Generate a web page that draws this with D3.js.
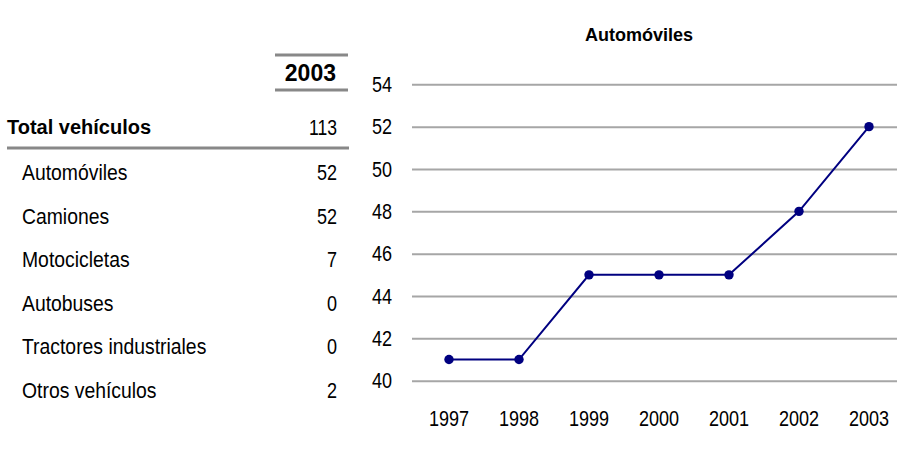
<!DOCTYPE html>
<html>
<head>
<meta charset="utf-8">
<script src="https://cdn.jsdelivr.net/npm/d3@7"></script>
<style>
  body { margin: 0; background: #fff; }
  svg text { fill: #000; }
  .narrow { font-family: "Liberation Sans", Arial, sans-serif; }
  .bold { font-family: "Liberation Sans", Arial, sans-serif; font-weight: bold; }
</style>
</head>
<body>
<div id="chart"></div>
<script>

var width = 897, height = 453;

// table data
var tableYear = "2003";
var totalLabel = "Total vehículos";
var totalValue = 113;
var rowLabels = ["Automóviles", "Camiones", "Motocicletas", "Autobuses", "Tractores industriales", "Otros vehículos"];
var rowValues = [52, 52, 7, 0, 0, 2];

// line chart data
var chartTitle = "Automóviles";
var years = ["1997", "1998", "1999", "2000", "2001", "2002", "2003"];
var autos = [41, 41, 45, 45, 45, 48, 52];
var yTicks = [40, 42, 44, 46, 48, 50, 52, 54];

// no narrow font installed, so squeeze the regular one
function condense(sel, k) {
	sel.each(function () {
		var t = d3.select(this);
		var x0 = +t.attr("x") || 0;
		t.attr("x", x0 / k)
			.attr("transform", "scale(" + k + ",1)");
	});
}

var svg = d3.select("#chart").append("svg")
	.attr("width", width)
	.attr("height", height);

// ---- table ----
var tbl = svg.append("g");

tbl.append("line")
	.attr("x1", 275).attr("x2", 348)
	.attr("y1", 55).attr("y2", 55)
	.style("stroke", "#888").style("stroke-width", 3);
tbl.append("line")
	.attr("x1", 275).attr("x2", 348)
	.attr("y1", 90).attr("y2", 90)
	.style("stroke", "#888").style("stroke-width", 3);
tbl.append("text")
	.attr("class", "bold")
	.attr("x", 336).attr("y", 81)
	.attr("text-anchor", "end")
	.style("font-size", "23px")
	.text(tableYear);

tbl.append("text")
	.attr("class", "bold")
	.attr("x", 7).attr("y", 134)
	.style("font-size", "20px")
	.text(totalLabel);
tbl.append("text")
	.attr("class", "narrow")
	.attr("x", 337).attr("y", 135)
	.attr("text-anchor", "end")
	.style("font-size", "22px")
	.text(totalValue)
	.call(condense, 0.8);
tbl.append("line")
	.attr("x1", 7).attr("x2", 349)
	.attr("y1", 148).attr("y2", 148)
	.style("stroke", "#888").style("stroke-width", 3);

var rowY = d3.scaleBand()
	.domain(rowLabels)
	.range([158.5, 419.5]);

var rows = tbl.selectAll("g.row")
	.data(rowLabels)
	.enter()
	.append("g")
	.attr("class", "row")
	.attr("transform", function (d) {
		return "translate(0," + (rowY(d) + rowY.bandwidth() / 2) + ")";
	});

rows.append("text")
	.attr("class", "narrow")
	.attr("x", 22)
	.style("font-size", "22px")
	.text(function (d) { return d; })
	.call(condense, 0.88);
rows.append("text")
	.attr("class", "narrow")
	.attr("x", 337)
	.attr("text-anchor", "end")
	.style("font-size", "22px")
	.text(function (d, i) { return rowValues[i]; })
	.call(condense, 0.82);

// ---- line chart ----
var x = d3.scaleBand()
	.domain(years)
	.range([414, 904]);

var y = d3.scaleLinear()
	.domain([40, 54])
	.range([380.7, 84.3]);

svg.append("text")
	.attr("class", "bold")
	.attr("x", 639).attr("y", 41)
	.attr("text-anchor", "middle")
	.style("font-size", "18px")
	.text(chartTitle);

var yAxis = svg.append("g")
	.attr("transform", "translate(412,0)")
	.call(d3.axisLeft(y).tickValues(yTicks).tickSize(-492).tickPadding(20));
yAxis.select(".domain").remove();
yAxis.selectAll(".tick line")
	.style("stroke", "#a6a6a6").style("stroke-width", 2);
yAxis.selectAll(".tick text")
	.attr("class", "narrow")
	.style("font-size", "22px")
	.attr("fill", "#000")
	.call(condense, 0.82);

var xAxis = svg.append("g")
	.attr("transform", "translate(0,380.7)")
	.call(d3.axisBottom(x).tickSize(0).tickPadding(30));
xAxis.select(".domain").remove();
xAxis.selectAll(".tick text")
	.attr("class", "narrow")
	.style("font-size", "22px")
	.attr("fill", "#000")
	.call(condense, 0.82);

var pts = years.map(function (d, i) { return { year: d, value: autos[i] }; });

var line = d3.line()
	.x(function (d) { return x(d.year) + x.bandwidth() / 2; })
	.y(function (d) { return y(d.value); });

svg.append("path")
	.datum(pts)
	.attr("d", line)
	.style("fill", "none")
	.style("stroke", "#000080")
	.style("stroke-width", 2);

svg.selectAll("circle")
	.data(pts)
	.enter()
	.append("circle")
	.attr("cx", function (d) { return x(d.year) + x.bandwidth() / 2; })
	.attr("cy", function (d) { return y(d.value); })
	.attr("r", 4.7)
	.style("fill", "#000080");

</script>
</body>
</html>
